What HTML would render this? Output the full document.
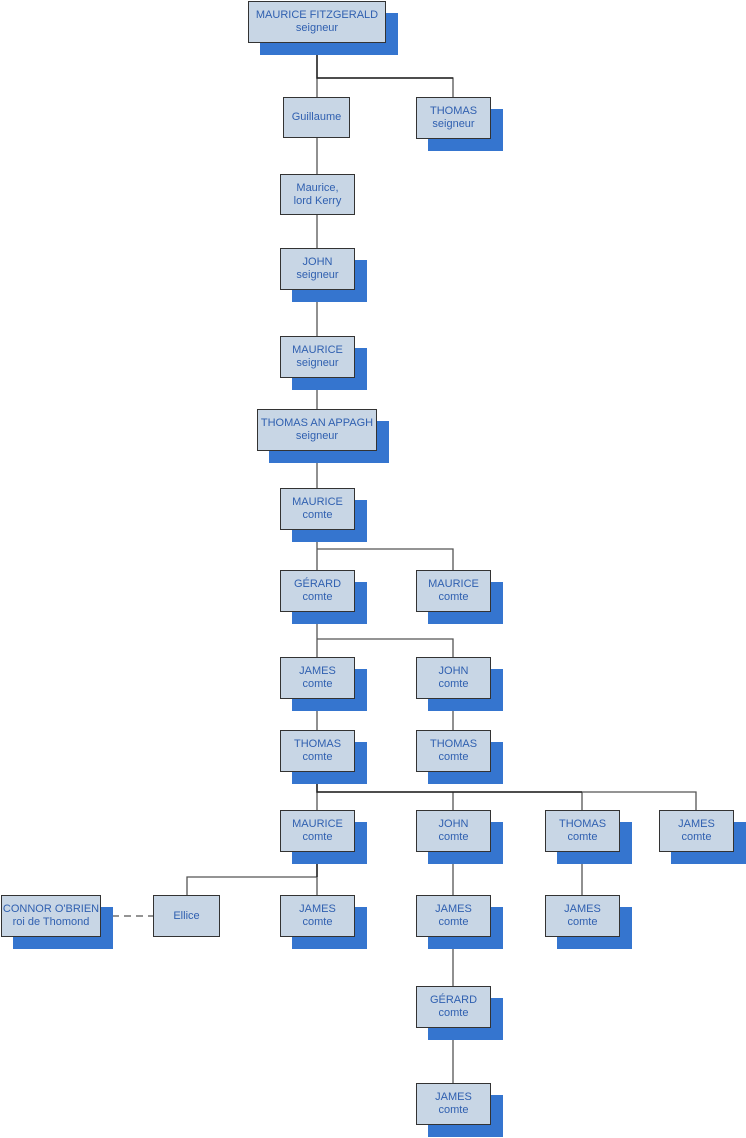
<!DOCTYPE html>
<html><head><meta charset="utf-8"><style>
body{margin:0;width:746px;height:1138px;background:#fff;position:relative;overflow:hidden;font-family:"Liberation Sans",sans-serif}
.b{position:absolute;background:#c8d6e5;border:1.5px solid #333;box-sizing:border-box;color:#3060b0;font-size:11px;line-height:13px;text-align:center;display:flex;align-items:center;justify-content:center}
.s{position:absolute;background:#3575cf}
svg{position:absolute;left:0;top:0}
</style></head><body>
<svg width="746" height="1138">
<g stroke="#555" stroke-width="1.3" fill="none">
<path d="M317 42V488M317 78H453V97"/>
<path d="M317 530V810M317 549H453V570M317 639H453V657"/>
<path d="M453 699V730"/>
<path d="M317 792H696V810M453 792V810M582 792V810"/>
<path d="M317 852V895M317 877H187V895"/>
<path d="M453 852V1083"/>
<path d="M582 852V895"/>
<path d="M100 916H153" stroke-dasharray="7,5"/>
</g>
<g stroke="#222" stroke-width="1.5" fill="none">
<path d="M317 42V78H453"/>
<path d="M317 772V792H582"/>
<path d="M317 852V877"/>
</g></svg>
<div class="s" style="left:260px;top:13px;width:138px;height:42px"></div>
<div class="b" style="left:248px;top:1px;width:138px;height:42px">MAURICE FITZGERALD<br>seigneur</div>
<div class="b" style="left:283px;top:97px;width:67px;height:41px">Guillaume</div>
<div class="s" style="left:428px;top:109px;width:75px;height:42px"></div>
<div class="b" style="left:416px;top:97px;width:75px;height:42px">THOMAS<br>seigneur</div>
<div class="b" style="left:280px;top:174px;width:75px;height:41px">Maurice,<br>lord Kerry</div>
<div class="s" style="left:292px;top:260px;width:75px;height:42px"></div>
<div class="b" style="left:280px;top:248px;width:75px;height:42px">JOHN<br>seigneur</div>
<div class="s" style="left:292px;top:348px;width:75px;height:42px"></div>
<div class="b" style="left:280px;top:336px;width:75px;height:42px">MAURICE<br>seigneur</div>
<div class="s" style="left:269px;top:421px;width:120px;height:42px"></div>
<div class="b" style="left:257px;top:409px;width:120px;height:42px">THOMAS AN APPAGH<br>seigneur</div>
<div class="s" style="left:292px;top:500px;width:75px;height:42px"></div>
<div class="b" style="left:280px;top:488px;width:75px;height:42px">MAURICE<br>comte</div>
<div class="s" style="left:292px;top:582px;width:75px;height:42px"></div>
<div class="b" style="left:280px;top:570px;width:75px;height:42px">GÉRARD<br>comte</div>
<div class="s" style="left:428px;top:582px;width:75px;height:42px"></div>
<div class="b" style="left:416px;top:570px;width:75px;height:42px">MAURICE<br>comte</div>
<div class="s" style="left:292px;top:669px;width:75px;height:42px"></div>
<div class="b" style="left:280px;top:657px;width:75px;height:42px">JAMES<br>comte</div>
<div class="s" style="left:428px;top:669px;width:75px;height:42px"></div>
<div class="b" style="left:416px;top:657px;width:75px;height:42px">JOHN<br>comte</div>
<div class="s" style="left:292px;top:742px;width:75px;height:42px"></div>
<div class="b" style="left:280px;top:730px;width:75px;height:42px">THOMAS<br>comte</div>
<div class="s" style="left:428px;top:742px;width:75px;height:42px"></div>
<div class="b" style="left:416px;top:730px;width:75px;height:42px">THOMAS<br>comte</div>
<div class="s" style="left:292px;top:822px;width:75px;height:42px"></div>
<div class="b" style="left:280px;top:810px;width:75px;height:42px">MAURICE<br>comte</div>
<div class="s" style="left:428px;top:822px;width:75px;height:42px"></div>
<div class="b" style="left:416px;top:810px;width:75px;height:42px">JOHN<br>comte</div>
<div class="s" style="left:557px;top:822px;width:75px;height:42px"></div>
<div class="b" style="left:545px;top:810px;width:75px;height:42px">THOMAS<br>comte</div>
<div class="s" style="left:671px;top:822px;width:75px;height:42px"></div>
<div class="b" style="left:659px;top:810px;width:75px;height:42px">JAMES<br>comte</div>
<div class="s" style="left:13px;top:907px;width:100px;height:42px"></div>
<div class="b" style="left:1px;top:895px;width:100px;height:42px">CONNOR O'BRIEN<br>roi de Thomond</div>
<div class="b" style="left:153px;top:895px;width:67px;height:42px">Ellice</div>
<div class="s" style="left:292px;top:907px;width:75px;height:42px"></div>
<div class="b" style="left:280px;top:895px;width:75px;height:42px">JAMES<br>comte</div>
<div class="s" style="left:428px;top:907px;width:75px;height:42px"></div>
<div class="b" style="left:416px;top:895px;width:75px;height:42px">JAMES<br>comte</div>
<div class="s" style="left:557px;top:907px;width:75px;height:42px"></div>
<div class="b" style="left:545px;top:895px;width:75px;height:42px">JAMES<br>comte</div>
<div class="s" style="left:428px;top:998px;width:75px;height:42px"></div>
<div class="b" style="left:416px;top:986px;width:75px;height:42px">GÉRARD<br>comte</div>
<div class="s" style="left:428px;top:1095px;width:75px;height:42px"></div>
<div class="b" style="left:416px;top:1083px;width:75px;height:42px">JAMES<br>comte</div>
</body></html>
